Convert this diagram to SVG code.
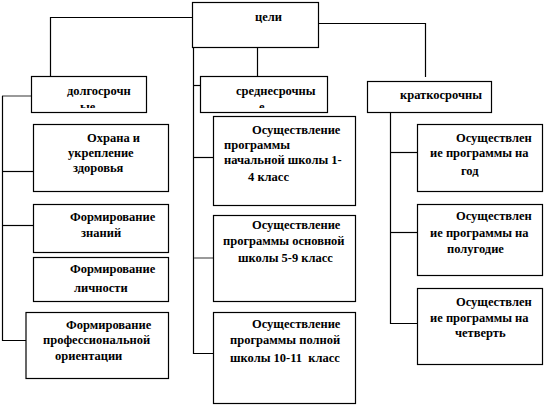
<svg xmlns="http://www.w3.org/2000/svg" width="545" height="407" viewBox="0 0 545 407">
<style>
.box{fill:#fff;stroke:#000;stroke-width:1.2}
.ln{fill:none;stroke:#000;stroke-width:1.2}
.gr{fill:none;stroke:#808080;stroke-width:1.6}
text{font-family:"Liberation Serif","Times New Roman","DejaVu Serif",serif;font-weight:bold;font-size:12.5px;fill:#000}
</style>
<defs>
<clipPath id="c1"><rect x="31" y="76" width="115" height="32"/></clipPath>
<clipPath id="c2"><rect x="200" y="76" width="127" height="32"/></clipPath>
</defs>
<rect width="545" height="407" fill="#fff"/>
<g id="connectors">
<polyline class="ln" points="192.5,17.5 50.5,17.5 50.5,76.5"/>
<polyline class="ln" points="318.5,23.5 425.5,23.5 425.5,77"/>
<line class="ln" x1="257.5" y1="47.5" x2="257.5" y2="76.5"/>
<polyline class="ln" points="193.5,47.5 193.5,353.5 213.5,353.5"/>
<line class="ln" x1="193.5" y1="85.5" x2="200.5" y2="85.5"/>
<line class="ln" x1="193.5" y1="157.5" x2="213.5" y2="157.5"/>
<line class="gr" x1="194" y1="258" x2="215" y2="258"/>
<line class="gr" x1="2" y1="96" x2="33" y2="96"/>
<polyline class="ln" points="2.5,96 2.5,340.5 26,340.5"/>
<line class="ln" x1="2.5" y1="171.5" x2="33" y2="171.5"/>
<line class="ln" x1="2.5" y1="225.5" x2="33" y2="225.5"/>
<polyline class="ln" points="390.5,112.5 390.5,323.5 417.5,323.5"/>
<line class="ln" x1="390.5" y1="152.5" x2="417.5" y2="152.5"/>
<line class="ln" x1="390.5" y1="232.5" x2="420" y2="232.5"/>
</g>
<g id="n-celi">
<rect class="box" x="192.5" y="2.5" width="126" height="45"/>
<text x="255" y="21">цели</text>
</g>
<g id="n-dolgo">
<rect class="box" x="31.5" y="76.5" width="115" height="36"/>
<text x="67" y="95">долгосрочн</text>
<text x="80" y="111" clip-path="url(#c1)">ые</text>
</g>
<g id="n-sredne">
<rect class="box" x="200.5" y="76.5" width="127" height="36"/>
<text x="236" y="95">среднесрочны</text>
<text x="259" y="111" clip-path="url(#c2)">е</text>
</g>
<g id="n-kratko">
<rect class="box" x="367.5" y="81.5" width="124" height="31"/>
<text x="400" y="99">краткосрочны</text>
</g>
<g id="n-ohrana">
<rect class="box" x="33.5" y="124.5" width="135" height="67"/>
<text x="87" y="142">Охрана и</text>
<text x="68" y="157">укрепление</text>
<text x="73" y="172">здоровья</text>
</g>
<g id="n-znaniy">
<rect class="box" x="33.5" y="204.5" width="135" height="48"/>
<text x="70" y="221">Формирование</text>
<text x="81" y="237">знаний</text>
</g>
<g id="n-lichnosti">
<rect class="box" x="33.5" y="257.5" width="135" height="44"/>
<text x="70" y="273">Формирование</text>
<text x="74" y="292">личности</text>
</g>
<g id="n-prof">
<rect class="box" x="26" y="312.5" width="142.5" height="66"/>
<text x="66" y="329">Формирование</text>
<text x="43" y="344">профессиональной</text>
<text x="55" y="360">ориентации</text>
</g>
<g id="n-m1">
<rect class="box" x="213.5" y="116.5" width="142" height="89"/>
<text x="252" y="134">Осуществление</text>
<text x="224" y="149">программы</text>
<text x="224" y="164">начальной школы 1-</text>
<text x="248" y="181">4 класс</text>
</g>
<g id="n-m2">
<rect class="box" x="213.5" y="215.5" width="142" height="86"/>
<text x="252" y="229">Осуществление</text>
<text x="223" y="245">программы основной</text>
<text x="238" y="262">школы 5-9 класс</text>
</g>
<g id="n-m3">
<rect class="box" x="213.5" y="312.5" width="142" height="91"/>
<text x="252" y="328">Осуществление</text>
<text x="230" y="344">программы полной</text>
<text x="230" y="362" xml:space="preserve">школы 10-11  класс</text>
</g>
<g id="n-god">
<rect class="box" x="417.5" y="124.5" width="125" height="67"/>
<text x="456" y="142">Осуществлен</text>
<text x="430" y="157">ие программы на</text>
<text x="461" y="175">год</text>
</g>
<g id="n-polugodie">
<rect class="box" x="417.5" y="204.5" width="125" height="71"/>
<text x="456" y="220">Осуществлен</text>
<text x="430" y="237">ие программы на</text>
<text x="447" y="253">полугодие</text>
</g>
<g id="n-chetvert">
<rect class="box" x="417.5" y="288.5" width="125" height="76"/>
<text x="456" y="306">Осуществлен</text>
<text x="430" y="322">ие программы на</text>
<text x="455" y="337">четверть</text>
</g>
</svg>
